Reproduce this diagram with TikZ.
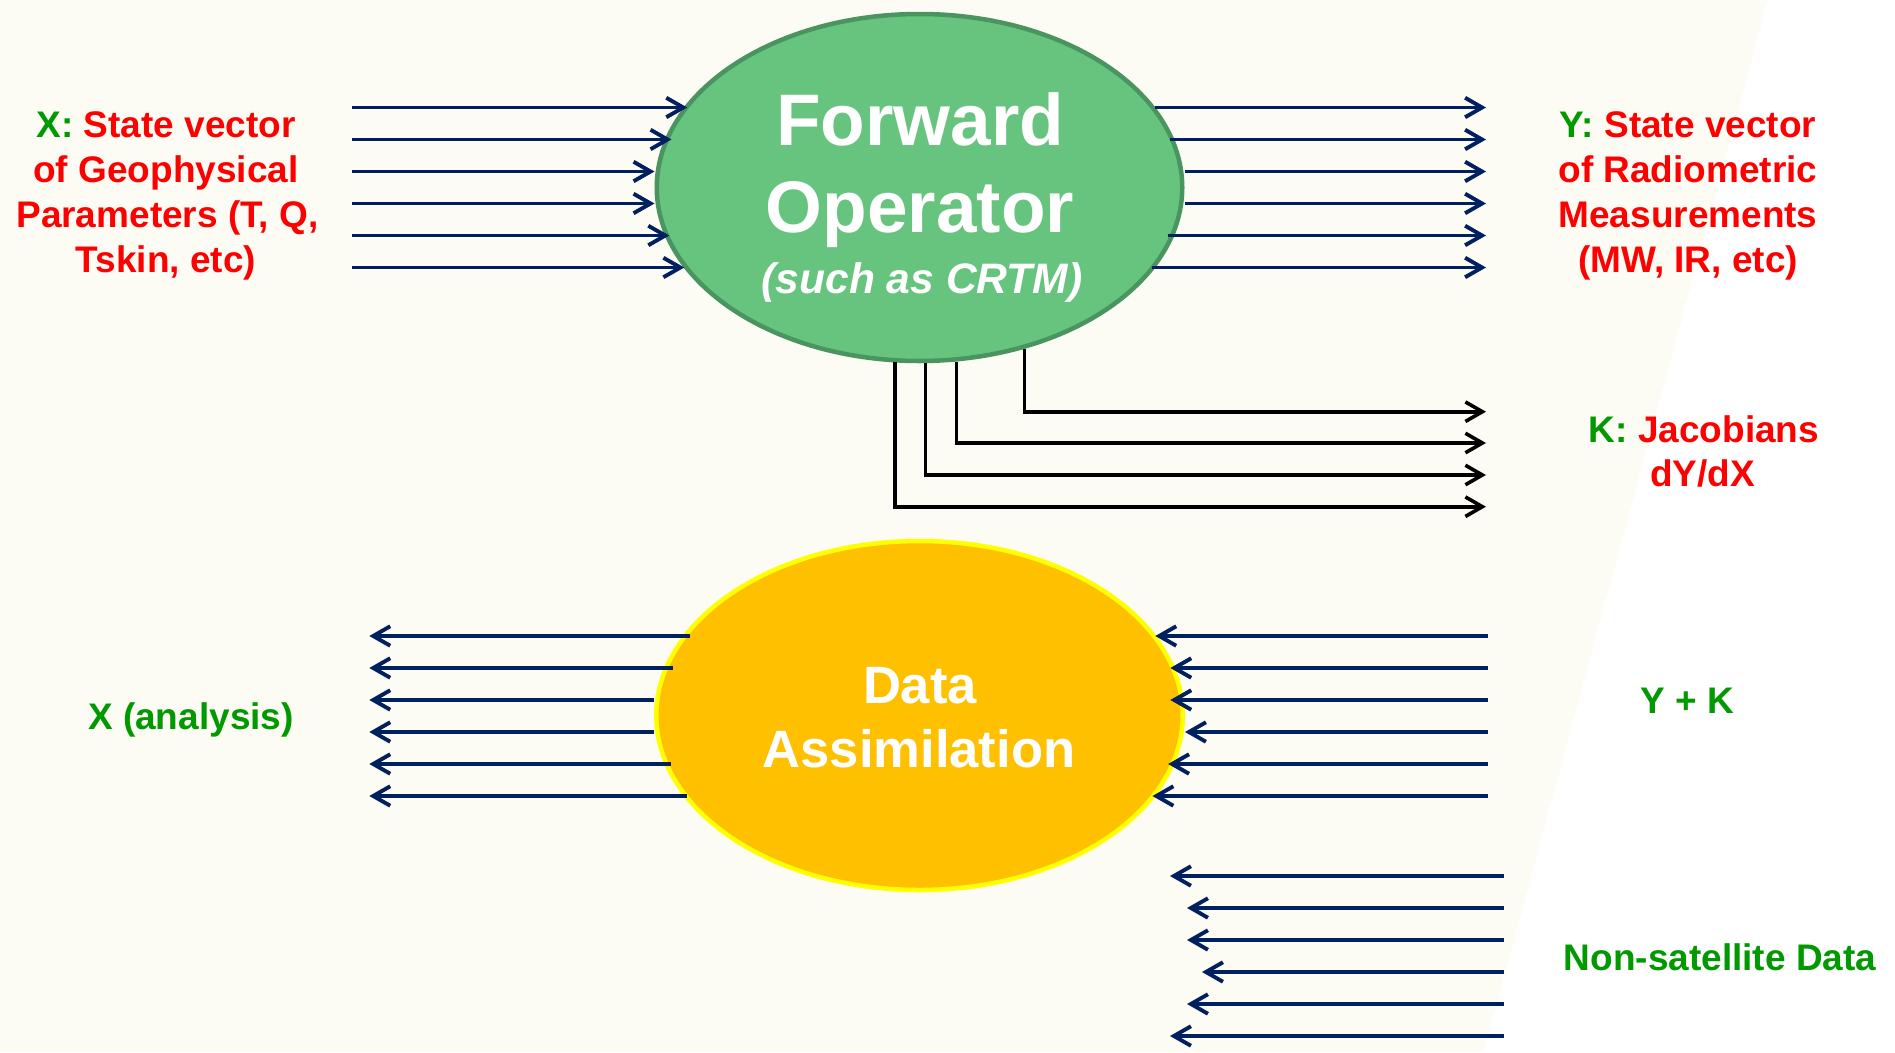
\documentclass[tikz,border=0pt]{standalone}
\usepackage{fontspec}
\setmainfont{Liberation Sans}
\usetikzlibrary{arrows.meta,shapes.geometric}

\definecolor{bgcream}{RGB}{252,252,244}
\definecolor{navy}{RGB}{0,32,96}
\definecolor{fogreen}{RGB}{102,196,126}
\definecolor{foedge}{RGB}{74,148,96}
\definecolor{daorange}{RGB}{255,192,0}
\definecolor{dayellow}{RGB}{255,255,0}
\definecolor{lblgreen}{RGB}{0,153,0}
\definecolor{lblred}{RGB}{255,0,0}

\tikzset{
  flow/.style={draw=navy, line width=3.9pt, -{Straight Barb[length=17pt,width=19.5pt]}},
  jac/.style={draw=black, line width=3.6pt, -{Straight Barb[length=17pt,width=19.5pt]}},
  fwdop/.style={ellipse, draw=foedge, fill=fogreen, line width=4.5pt,
    minimum width=525.5pt, minimum height=347pt, inner sep=0pt},
  dabox/.style={ellipse, draw=dayellow, fill=daorange, line width=4.5pt,
    minimum width=526.5pt, minimum height=349pt, inner sep=0pt},
  lbl/.style={font=\fontsize{37}{44.7}\selectfont\bfseries, text=lblred,
    anchor=base, inner sep=0pt},
  lblg/.style={lbl, text=lblgreen},
  optitle/.style={font=\fontsize{73}{80}\selectfont\bfseries, text=white,
    anchor=base, inner sep=0pt},
  opsub/.style={font=\fontsize{42.6}{48}\selectfont\bfseries\itshape, text=white,
    anchor=base, inner sep=0pt},
  datitle/.style={font=\fontsize{52.6}{60}\selectfont\bfseries, text=white,
    anchor=base, inner sep=0pt},
}

\begin{document}
\begin{tikzpicture}[x=1pt,y=-1pt]
  \useasboundingbox (0,0) rectangle (1895,1052);
  % slide background with the lighter wedge on the right
  \fill[bgcream] (0,0) rectangle (1895,1052);
  \fill[white] (1768,0) -- (1895,0) -- (1895,1052) -- (1484,1052) -- cycle;

  % the two processes
  \node[fwdop] (fo) at (919.5,187.5) {};
  \node[dabox] (da) at (919.5,715.5) {};

  \node[optitle] (foA) at (920,145.7) {Forward};
  \node[optitle] (foB) at (920,232.5) {Operator};
  \node[opsub]   (foC) at (922,293.3) {(such as CRTM)};

  \node[datitle] (daA) at (920,703.3) {Data};
  \node[datitle] (daB) at (919,767.7) {Assimilation};

  % labels
  \node[lbl] (xA) at (166,137.5) {\textcolor{lblgreen}{X:} State vector};
  \node[lbl] (xB) at (166,182.3) {of Geophysical};
  \node[lbl] (xC) at (167.5,227) {Parameters (T, Q,};
  \node[lbl] (xD) at (166,272) {Tskin, etc)};

  \node[lbl] (yA) at (1688,137.5) {\textcolor{lblgreen}{Y:} State vector};
  \node[lbl] (yB) at (1688,182.3) {of Radiometric};
  \node[lbl] (yC) at (1688,227) {Measurements};
  \node[lbl] (yD) at (1688,272) {(MW, IR, etc)};

  \node[lbl] (kA) at (1704,442.3) {\textcolor{lblgreen}{K:} Jacobians};
  \node[lbl] (kB) at (1702.5,486) {dY/dX};

  \node[lblg] (xan) at (191,729.3) {X (analysis)};
  \node[lblg] (ypk) at (1687,713.3) {Y + K};
  \node[lblg] (nsd) at (1720,970) {Non-satellite Data};

  % free ends of the connectors
  \foreach \i/\y in {1/107.5,2/139.5,3/171.5,4/203.5,5/235.5,6/267.5}{
    \coordinate (xin\i) at (352,\y);
    \coordinate (yout\i) at (1486,\y);
  }
  \foreach \i/\y in {1/411.7,2/443,3/475,4/506.7}{
    \coordinate (kout\i) at (1486,\y);
  }
  \foreach \i/\y in {1/636,2/668,3/700,4/732,5/764,6/796}{
    \coordinate (daout\i) at (369.3,\y);
    \coordinate (dain\i) at (1487.7,\y);
  }
  \foreach \i/\y/\t in {1/876/1170,2/908/1187,3/940/1187,4/972/1202,5/1004/1187,6/1036/1170}{
    \coordinate (nsa\i) at (1503.5,\y);
    \coordinate (nsb\i) at (\t,\y);
  }

  % geophysical state into the forward operator
  \draw[flow] (xin1) -- (xin1 -| fo.160.5);
  \draw[flow] (xin2) -- (xin2 -| fo.166.7);
  \draw[flow] (xin3) -- (xin3 -| fo.west);
  \draw[flow] (xin4) -- (xin4 -| fo.west);
  \draw[flow] (xin5) -- (xin5 -| fo.193.3);
  \draw[flow] (xin6) -- (xin6 -| fo.199.5);

  % radiances out of the forward operator
  \draw[flow] (yout1 -| fo.19.7) -- (yout1);
  \draw[flow] (yout2 -| fo.13.75) -- (yout2);
  \draw[flow] (yout3 -| fo.east) -- (yout3);
  \draw[flow] (yout4 -| fo.east) -- (yout4);
  \draw[flow] (yout5 -| fo.346.25) -- (yout5);
  \draw[flow] (yout6 -| fo.340.3) -- (yout6);

  % Jacobians
  \draw[jac] (fo.303) |- (kout1);
  \draw[jac] (fo.282.5) |- (kout2);
  \draw[jac] (fo.272.65) |- (kout3);
  \draw[jac] (fo.262.3) |- (kout4);

  % analysis out of data assimilation
  \draw[flow] (daout1 -| da.159.6) -- (daout1);
  \draw[flow] (daout2 -| da.165.65) -- (daout2);
  \draw[flow] (daout3 -| da.west) -- (daout3);
  \draw[flow] (daout4 -| da.west) -- (daout4);
  \draw[flow] (daout5 -| da.194.35) -- (daout5);
  \draw[flow] (daout6 -| da.200.4) -- (daout6);

  % Y + K into data assimilation
  \draw[flow] (dain1) -- (dain1 -| da.19.8);
  \draw[flow] (dain2) -- (dain2 -| da.13.6);
  \draw[flow] (dain3) -- (dain3 -| da.13.6);
  \draw[flow] (dain4) -- (dain4 -| da.east);
  \draw[flow] (dain5) -- (dain5 -| da.346.4);
  \draw[flow] (dain6) -- (dain6 -| da.340.2);

  % non-satellite data
  \foreach \i in {1,...,6}{
    \draw[flow] (nsa\i) -- (nsb\i);
  }
\end{tikzpicture}
\end{document}
